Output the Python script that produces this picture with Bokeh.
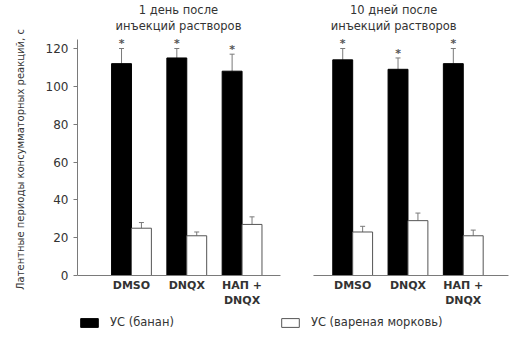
from bokeh.plotting import figure
from bokeh.layouts import row
from bokeh.models import (Range1d, ColumnDataSource, Whisker, TeeHead, FixedTicker,
                          Legend, LegendItem)
from bokeh.embed import file_html
from bokeh.resources import INLINE
from bokeh.core.properties import value
import math

# ---- data ----
panel_titles = ["1 день после\nинъекций растворов", "10 дней после\nинъекций растворов"]
groups = ["DMSO", "DNQX", "НАП +\nDNQX", "DMSO", "DNQX", "НАП +\nDNQX"]
group_pos = [0, 1, 2, 4, 5, 6]
banana = [112, 115, 108, 114, 109, 112]
banana_err = [8, 5, 9, 6, 6, 8]
carrot = [25, 21, 27, 23, 29, 21]
carrot_err = [3, 2, 4, 3, 4, 3]
yticks = [0, 20, 40, 60, 80, 100, 120]
legend_labels = ["УС (банан)", "УС (вареная морковь)"]
y_label = "Латентные периоды консумматорных реакций, с"

FONT = "DejaVu Sans"
W = 0.36  # bar width in group units
GRAY = "#7a7a7a"
TXT = "#333333"

WIDTH, H = 509, 338
LABEL_W = 34               # narrow strip holding the rotated y-axis title
LEFT = 77 - LABEL_W
ppu = 227 / 120.0          # pixels per y unit
y0_canvas = 275            # canvas row of y = 0
ppx = 55.3                 # pixels per group unit
x_start = -0.976
x_end = x_start + (WIDTH - 77) / ppx

# ---- y-axis title strip ----
lab = figure(width=LABEL_W, height=H, output_backend="svg", toolbar_location=None,
             x_range=Range1d(0, LABEL_W), y_range=Range1d(0, H),
             min_border=0, x_axis_location=None, y_axis_location=None)
lab.outline_line_color = None
lab.xgrid.visible = False
lab.ygrid.visible = False
lab.text(x=[20], y=[H - 159], text=[y_label], angle=math.pi / 2,
         text_font=value(FONT), text_font_size="10px", text_color=TXT,
         text_align="center", text_baseline="middle")

# ---- main chart ----
p = figure(width=WIDTH - LABEL_W, height=H, output_backend="svg", toolbar_location=None,
           x_range=Range1d(x_start, x_end),
           y_range=Range1d(-(H - y0_canvas) / ppu, y0_canvas / ppu),
           min_border_left=LEFT, min_border_right=0, min_border_top=0, min_border_bottom=0,
           x_axis_location=None, y_axis_location="left")
p.outline_line_color = None
p.xgrid.visible = False
p.ygrid.visible = False
p.background_fill_color = "white"

ax = p.yaxis[0]
ax.bounds = (0, 125)
ax.ticker = FixedTicker(ticks=yticks)
ax.minor_tick_line_color = None
ax.major_tick_in = 0
ax.major_tick_out = 4
ax.axis_line_color = GRAY
ax.major_tick_line_color = GRAY
ax.major_label_text_font = FONT
ax.major_label_text_font_size = "12px"
ax.major_label_text_color = TXT
ax.major_label_standoff = 5

src = ColumnDataSource(dict(
    x=group_pos,
    bl=[g - W for g in group_pos], br=group_pos,
    wl=group_pos, wr=[g + W for g in group_pos],
    bc=[g - W / 2 for g in group_pos], wc=[g + W / 2 for g in group_pos],
    banana=banana, carrot=carrot,
    bup=[v + e for v, e in zip(banana, banana_err)],
    cup=[v + e for v, e in zip(carrot, carrot_err)],
    star=[v + e + 2.5 for v, e in zip(banana, banana_err)],
    label=groups,
))

r_b = p.quad(left="bl", right="br", bottom=0, top="banana", source=src,
             fill_color="black", line_color="black")
r_c = p.quad(left="wl", right="wr", bottom=0, top="carrot", source=src,
             fill_color="white", line_color="#555555", line_width=1)

for base, lower, upper in (("bc", "banana", "bup"), ("wc", "carrot", "cup")):
    wk = Whisker(source=src, base=base, lower=lower, upper=upper, dimension="height",
                 line_color=GRAY, line_width=1,
                 upper_head=TeeHead(size=5, line_color=GRAY, line_width=1),
                 lower_head=None)
    p.add_layout(wk)

# significance stars
p.text(x="bc", y="star", text=value("*"), source=src, text_font=value(FONT),
       text_font_size="11px", text_font_style="bold", text_color="#555555",
       text_align="center", text_baseline="middle")

# baselines for the two panels
p.segment(x0=[x_start, (313 - 131) / ppx], y0=[0, 0],
          x1=[(280 - 131) / ppx, (508 - 131) / ppx], y1=[0, 0],
          line_color=GRAY, line_width=1)

# category labels
p.text(x="x", y=-1.6, text="label", source=src, text_font=value(FONT),
       text_font_size="11px", text_font_style="bold", text_color=TXT,
       text_align="center", text_baseline="top", text_line_height=1.2)

# panel titles
p.text(x=[0.85, 4.74], y=[(y0_canvas - 2) / ppu] * 2, text=panel_titles,
       text_font=value(FONT), text_font_size="11.5px", text_color=TXT,
       text_align="center", text_baseline="top", text_line_height=1.2)

# legend
legend = Legend(items=[LegendItem(label=legend_labels[0], renderers=[r_b]),
                       LegendItem(label=legend_labels[1], renderers=[r_c])],
                orientation="horizontal", location=(1, 9),
                glyph_width=22, glyph_height=11, label_standoff=10, spacing=105,
                padding=0, margin=0, border_line_color=None, background_fill_alpha=0,
                label_text_font=FONT, label_text_font_size="11.5px",
                label_text_color=TXT, label_height=11)
p.add_layout(legend)

layout = row(lab, p, spacing=0)
open("out.html", "w").write(file_html(layout, INLINE))
